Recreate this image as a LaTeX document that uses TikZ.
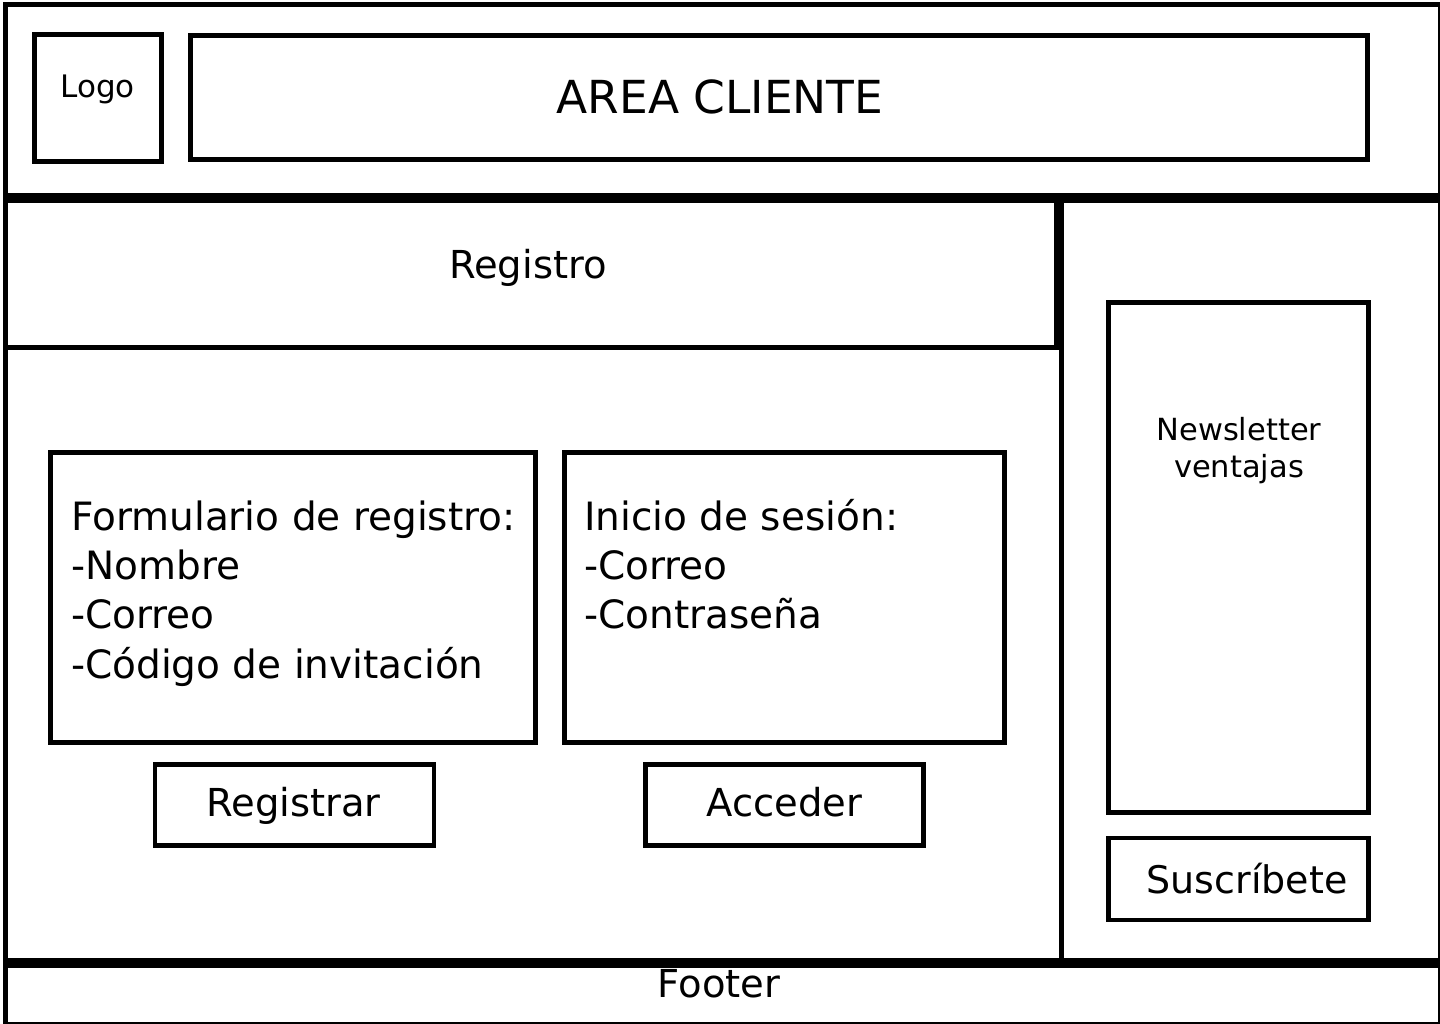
\documentclass[tikz,border=0pt]{standalone}
\usepackage{fontspec}
\setmainfont{DejaVu Sans}
\usetikzlibrary{positioning}

\begin{document}
\begin{tikzpicture}[x=1pt, y=-1pt,
  frame/.style={draw=black, line width=5pt, inner sep=0pt, anchor=north west},
  box/.style={draw=black, line width=4.5pt, inner sep=0pt},
  txt/.style={inner sep=0pt, anchor=base, font=\fontsize{#1}{#1}\selectfont},
  txt/.default=38.5]
  \useasboundingbox (0,0) rectangle (1440,1024);
  % page frames
  \node[frame, minimum width=1435pt, minimum height=191pt] (head) at (2.5,2.5) {};
  \node[frame, minimum width=1056pt, minimum height=759pt] (main) at (2.5,198.5) {};
  \node[frame, minimum width=1051pt, minimum height=146pt] (reg) at (2.5,198.5) {};
  \node[frame, minimum width=379pt, minimum height=759pt] (side) at (1058.5,198.5) {};
  \node[frame, minimum width=1435pt, minimum height=59pt] (foot) at (2.5,962.5) {};
  % header
  \node[box, minimum width=127pt, minimum height=127pt] (logo) at (98,98) {};
  \node[box, minimum width=1177pt, minimum height=124pt] (area) at (779,97.5) {};
  \node[txt=31] (logotxt) at (97.5,98) {Logo};
  \node[txt=45.5] (areatxt) at (720,114) {AREA CLIENTE};
  \node[txt] (regtxt) at (528,279) {Registro};
  % forms (base anchor sits on the last line)
  \node[box, minimum width=485pt, minimum height=290pt] (form) at (293,597.5) {};
  \node[box, minimum width=440pt, minimum height=290pt] (login) at (784.5,597.5) {};
  \node[txt, align=left, anchor=base west,
        font=\fontsize{39}{49.3}\selectfont] (formtxt) at (71,678)
    {Formulario de registro:\\-Nombre\\-Correo\\-Código de invitación};
  \node[txt, align=left, anchor=base west,
        font=\fontsize{39}{49.3}\selectfont] (logintxt) at (584,628.6)
    {Inicio de sesión:\\-Correo\\-Contraseña};
  \node[box, minimum width=279pt, minimum height=81pt] (btnreg) at (294.5,805) {};
  \node[box, minimum width=278pt, minimum height=81pt] (btnacc) at (784.5,805) {};
  \node[txt] (btnregtxt) at (293.5,816) {Registrar};
  \node[txt] (btnacctxt) at (784.5,816) {Acceder};
  % side column
  \node[box, minimum width=260pt, minimum height=510pt] (news) at (1238.5,557.5) {};
  \node[box, minimum width=260pt, minimum height=82pt] (subs) at (1238.5,879) {};
  \node[txt, align=center,
        font=\fontsize{30.5}{37}\selectfont] (newstxt) at (1239,477) {Newsletter\\ventajas};
  \node[txt=38] (substxt) at (1247,893) {Suscríbete};
  \node[txt] (foottxt) at (719,997) {Footer};
\end{tikzpicture}
\end{document}
